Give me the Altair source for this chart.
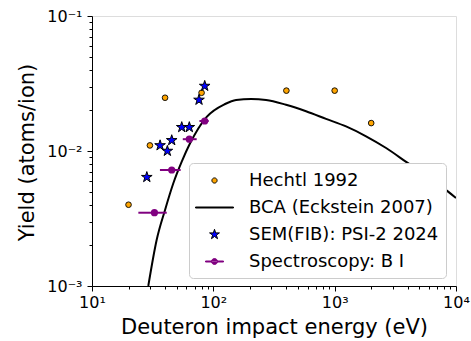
import altair as alt
import pandas as pd

# ---------------- data ----------------
series_names = ["Hechtl 1992", "BCA (Eckstein 2007)", "SEM(FIB): PSI-2 2024", "Spectroscopy: B I"]

hechtl_energy = [20, 30, 40, 80, 400, 1000, 2000]
hechtl_yield = [0.0040, 0.0110, 0.0248, 0.0270, 0.0280, 0.0280, 0.0161]

bca_energy = [29.1, 34.1, 40.0, 46.8, 54.9, 64.3, 75.2, 88.2, 125, 154, 205, 272,
              397, 581, 849, 1241, 1815, 2655, 3881, 8560, 10000]
bca_yield = [0.00100, 0.00219, 0.00366, 0.00577, 0.00834, 0.0114, 0.0147, 0.0179,
             0.0223, 0.0239, 0.0243, 0.0239, 0.0220, 0.0197, 0.0173, 0.0152,
             0.01285, 0.01052, 0.0083, 0.00502, 0.00449]

sem_energy = [28.3, 36.4, 41.8, 45.4, 54.9, 63.4, 76.2, 84.9]
sem_yield = [0.0064, 0.0110, 0.0100, 0.0120, 0.0150, 0.0150, 0.0239, 0.0303]

spec_energy = [32.7, 45.4, 63.4, 84.9]
spec_yield = [0.00349, 0.00723, 0.01223, 0.01668]
spec_energy_low = [24.1, 36.3, 56.0, 76.8]
spec_energy_high = [41.3, 53.8, 72.9, 91.6]

x_ticks = [10, 20, 30, 40, 50, 60, 70, 80, 90,
           100, 200, 300, 400, 500, 600, 700, 800, 900,
           1000, 2000, 3000, 4000, 5000, 6000, 7000, 8000, 9000, 10000]
y_ticks = [0.001, 0.002, 0.003, 0.004, 0.005, 0.006, 0.007, 0.008, 0.009,
           0.01, 0.02, 0.03, 0.04, 0.05, 0.06, 0.07, 0.08, 0.09, 0.1]

# ---------------- styles ----------------
FONT = "DejaVu Sans"
ORANGE = "#ffa500"
BLUE = "#0000ff"
PURPLE = "#800080"

STAR_PATH = ("M0,-0.5L0.112,-0.154L0.476,-0.155L0.181,0.059L0.294,0.405L0,0.19"
             "L-0.294,0.405L-0.181,0.059L-0.476,-0.155L-0.112,-0.154Z")
LEG_CIRCLE = "M-0.26,0A0.26,0.26 0 1,0 0.26,0A0.26,0.26 0 1,0 -0.26,0Z"
LEG_LINE = "M-1.9,-0.05H1.9V0.05H-1.9Z"
LEG_STAR = ("M0,-0.52L0.117,-0.16L0.495,-0.161L0.188,0.061L0.306,0.421L0,0.198"
            "L-0.306,0.421L-0.188,0.061L-0.495,-0.161L-0.117,-0.16Z")
LEG_SPEC = ("M-0.9,-0.05H0.9V0.05H-0.9Z"
            "M-0.3,0A0.3,0.3 0 1,0 0.3,0A0.3,0.3 0 1,0 -0.3,0Z")

major_test = "abs(log(datum.value)/LN10 - round(log(datum.value)/LN10)) < 0.001"
tick_size = {"condition": {"test": major_test, "value": 5}, "value": 3}

x_axis = alt.Axis(
    values=x_ticks,
    labelExpr="datum.value==10?'10¹':datum.value==100?'10²':datum.value==1000?'10³':datum.value==10000?'10⁴':''",
    tickSize=tick_size, tickColor="black", tickWidth=1,
    domainColor="black", domainWidth=1,
    labelFont=FONT, labelFontSize=16, labelColor="black", labelPadding=3,
    labelFlush=False, labelOverlap=False, labelBound=False, grid=False,
    title="Deuteron impact energy (eV)", titleFont=FONT, titleFontSize=21,
    titleFontWeight="normal", titleColor="black",
    titleBaseline="alphabetic", titleY=47,
)
y_axis = alt.Axis(
    values=y_ticks,
    labelExpr="datum.value==0.1?'10⁻¹':datum.value==0.01?'10⁻²':datum.value==0.001?'10⁻³':''",
    tickSize=tick_size, tickColor="black", tickWidth=1,
    domainColor="black", domainWidth=1,
    labelFont=FONT, labelFontSize=16, labelColor="black", labelPadding=5,
    labelOverlap=False, labelBound=False, grid=False,
    title="Yield (atoms/ion)", titleFont=FONT, titleFontSize=21,
    titleFontWeight="normal", titleColor="black",
    titleBaseline="alphabetic", titleX=-59, titleY=136, titleAngle=270,
)
x_scale = alt.Scale(type="log", domain=[10, 10000], nice=False)
y_scale = alt.Scale(type="log", domain=[0.001, 0.1], nice=False)


def X(field):
    return alt.X(field, type="quantitative", scale=x_scale, axis=x_axis)


def Y(field):
    return alt.Y(field, type="quantitative", scale=y_scale, axis=y_axis)


hechtl_df = pd.DataFrame({"E": hechtl_energy, "Y": hechtl_yield})
bca_df = pd.DataFrame({"E": bca_energy, "Y": bca_yield})
sem_df = pd.DataFrame({"E": sem_energy, "Y": sem_yield})
spec_df = pd.DataFrame({"E": spec_energy, "Y": spec_yield,
                        "lo": spec_energy_low, "hi": spec_energy_high})

hechtl = alt.Chart(hechtl_df).mark_point(
    shape="circle", filled=True, size=32, opacity=1, clip=True
).encode(x=X("E"), y=Y("Y"), fill=alt.value(ORANGE),
         stroke=alt.value("black"), strokeWidth=alt.value(0.9))

bca = alt.Chart(bca_df).mark_line(
    interpolate="monotone", clip=True, strokeWidth=2
).encode(x=X("E"), y=Y("Y"), color=alt.value("black"))

sem = alt.Chart(sem_df).mark_point(
    shape=STAR_PATH, filled=True, size=500, opacity=1, clip=True
).encode(x=X("E"), y=Y("Y"), fill=alt.value(BLUE),
         stroke=alt.value("black"), strokeWidth=alt.value(1))

spec_err = alt.Chart(spec_df).mark_rule(clip=True, strokeWidth=2).encode(
    x=X("lo"), x2="hi", y=Y("Y"), color=alt.value(PURPLE))

spec_pts = alt.Chart(spec_df).mark_point(
    shape="circle", filled=True, size=52, opacity=1, clip=True
).encode(x=X("E"), y=Y("Y"), fill=alt.value(PURPLE))

# legend-only layer (no positions -> nothing drawn)
legend_df = pd.DataFrame({"series": series_names,
                          "E": [None] * 4, "Y": [None] * 4})
leg = alt.Legend(
    title=None, orient="none", legendX=97, legendY=147,
    symbolSize=400, symbolStrokeWidth=1, symbolOpacity=1,
    labelFont=FONT, labelFontSize=18, labelColor="black", labelLimit=500,
    padding=7, rowPadding=7, labelOffset=24, symbolOffset=8,
    fillColor="white", strokeColor="#cccccc", cornerRadius=4,
)
legend_layer = alt.Chart(legend_df).mark_point(
    filled=True, opacity=1, invalid="filter", strokeWidth=1
).encode(
    x=X("E"), y=Y("Y"),
    fill=alt.Fill("series:N", scale=alt.Scale(domain=series_names,
                  range=[ORANGE, "black", BLUE, PURPLE]), legend=leg),
    stroke=alt.Stroke("series:N", scale=alt.Scale(domain=series_names,
                      range=["black", "black", "black", PURPLE]), legend=leg),
    shape=alt.Shape("series:N", scale=alt.Scale(domain=series_names,
                    range=[LEG_CIRCLE, LEG_LINE, LEG_STAR, LEG_SPEC]), legend=leg),
)

chart = alt.layer(hechtl, bca, sem, spec_err, spec_pts, legend_layer).properties(
    width=364, height=270,
    autosize=alt.AutoSizeParams(type="none"),
    padding={"left": 92, "top": 16, "right": 15, "bottom": 55},
).configure_view(stroke="black", strokeWidth=1).configure(font=FONT)

chart.save("out.html", embed_options={"renderer": "svg", "actions": False})
